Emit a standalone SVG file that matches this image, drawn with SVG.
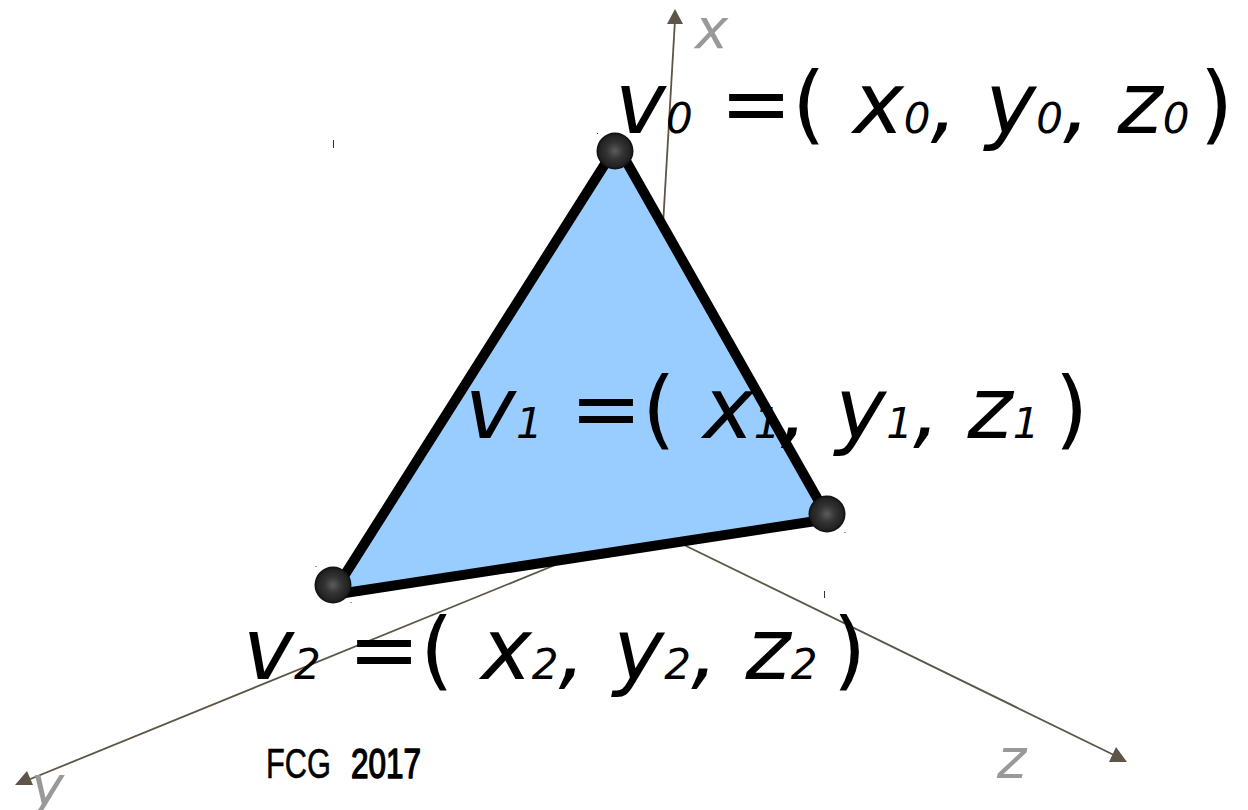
<svg xmlns="http://www.w3.org/2000/svg" width="1248" height="810" viewBox="0 0 1248 810">
<defs>
<radialGradient id="ball"><stop offset="0" stop-color="#5c5c5c"/><stop offset="0.45" stop-color="#343434"/><stop offset="0.85" stop-color="#222"/><stop offset="1" stop-color="#0c0c0c"/></radialGradient>
</defs>
<style>
.axis{stroke:#5c5548;stroke-width:1.8;fill:none}
.head{fill:#5c5548}
.big{font-family:"DejaVu Sans",sans-serif;font-size:86px;fill:#000;font-style:oblique}
.up{font-style:normal}
.sub{font-size:42px}
.axl{font-family:"DejaVu Sans",sans-serif;font-size:56px;font-style:oblique;fill:#999}
.ball{fill:url(#ball)}
.tick{stroke:#333;stroke-width:1;fill:none}
.fcg{font-family:"Liberation Sans",sans-serif;font-size:43px;fill:#000;stroke:#000;stroke-linejoin:round}
</style>
<rect width="1248" height="810" fill="#fff"/>
<g id="connectors">
<line class="axis" x1="663" y1="225" x2="675" y2="20"/>
<polygon class="head" points="675,9 667,24 683,24"/>
<line class="axis" x1="560" y1="563" x2="28" y2="780"/>
<polygon class="head" points="15,785 27,771 33,785"/>
<line class="axis" x1="680" y1="543" x2="1116" y2="756"/>
<polygon class="head" points="1116,747 1109,762 1127,762"/>
</g>
<g id="triangle"><polygon points="617,145 829,519 332,595" fill="#99ccff" stroke="#000" stroke-width="10" stroke-linejoin="round"/></g>
<path class="tick" d="M333.500 140V148M824.500 591V598M597.500 133V134M316 566V567M351 602V603M845 532V533"/>
<g id="v0"><circle class="ball" cx="615" cy="151" r="18.500"/></g>
<g id="v1"><circle class="ball" cx="827" cy="514" r="18.500"/></g>
<g id="v2"><circle class="ball" cx="333" cy="585" r="18.500"/></g>
<g id="label-x"><text class="axl" x="695" y="48">x</text></g>
<g id="label-y"><text class="axl" x="31" y="805">y</text></g>
<g id="label-z"><text class="axl" x="997" y="778">z</text></g>
<g id="label-v0"><text class="big" x="615" y="133">v<tspan class="sub">0</tspan> <tspan class="up">=(</tspan> x<tspan class="sub">0</tspan>, y<tspan class="sub">0</tspan>, z<tspan class="sub">0</tspan> <tspan class="up" dx="-17">)</tspan></text></g>
<g id="label-v1"><text class="big" x="465" y="438">v<tspan class="sub">1</tspan> <tspan class="up">=(</tspan> x<tspan class="sub">1</tspan>, y<tspan class="sub">1</tspan>, z<tspan class="sub">1</tspan> <tspan class="up" dx="-12">)</tspan></text></g>
<g id="label-v2"><text class="big" x="243" y="679">v<tspan class="sub">2</tspan> <tspan class="up">=(</tspan> x<tspan class="sub">2</tspan>, y<tspan class="sub">2</tspan>, z<tspan class="sub">2</tspan> <tspan class="up" dx="-12">)</tspan></text></g>
<g id="label-fcg"><text class="fcg" x="266" y="778" stroke-width="0.6" textLength="65" lengthAdjust="spacingAndGlyphs">FCG</text><text class="fcg" x="351" y="778" stroke-width="1.6" textLength="70" lengthAdjust="spacingAndGlyphs">2017</text></g>
</svg>
